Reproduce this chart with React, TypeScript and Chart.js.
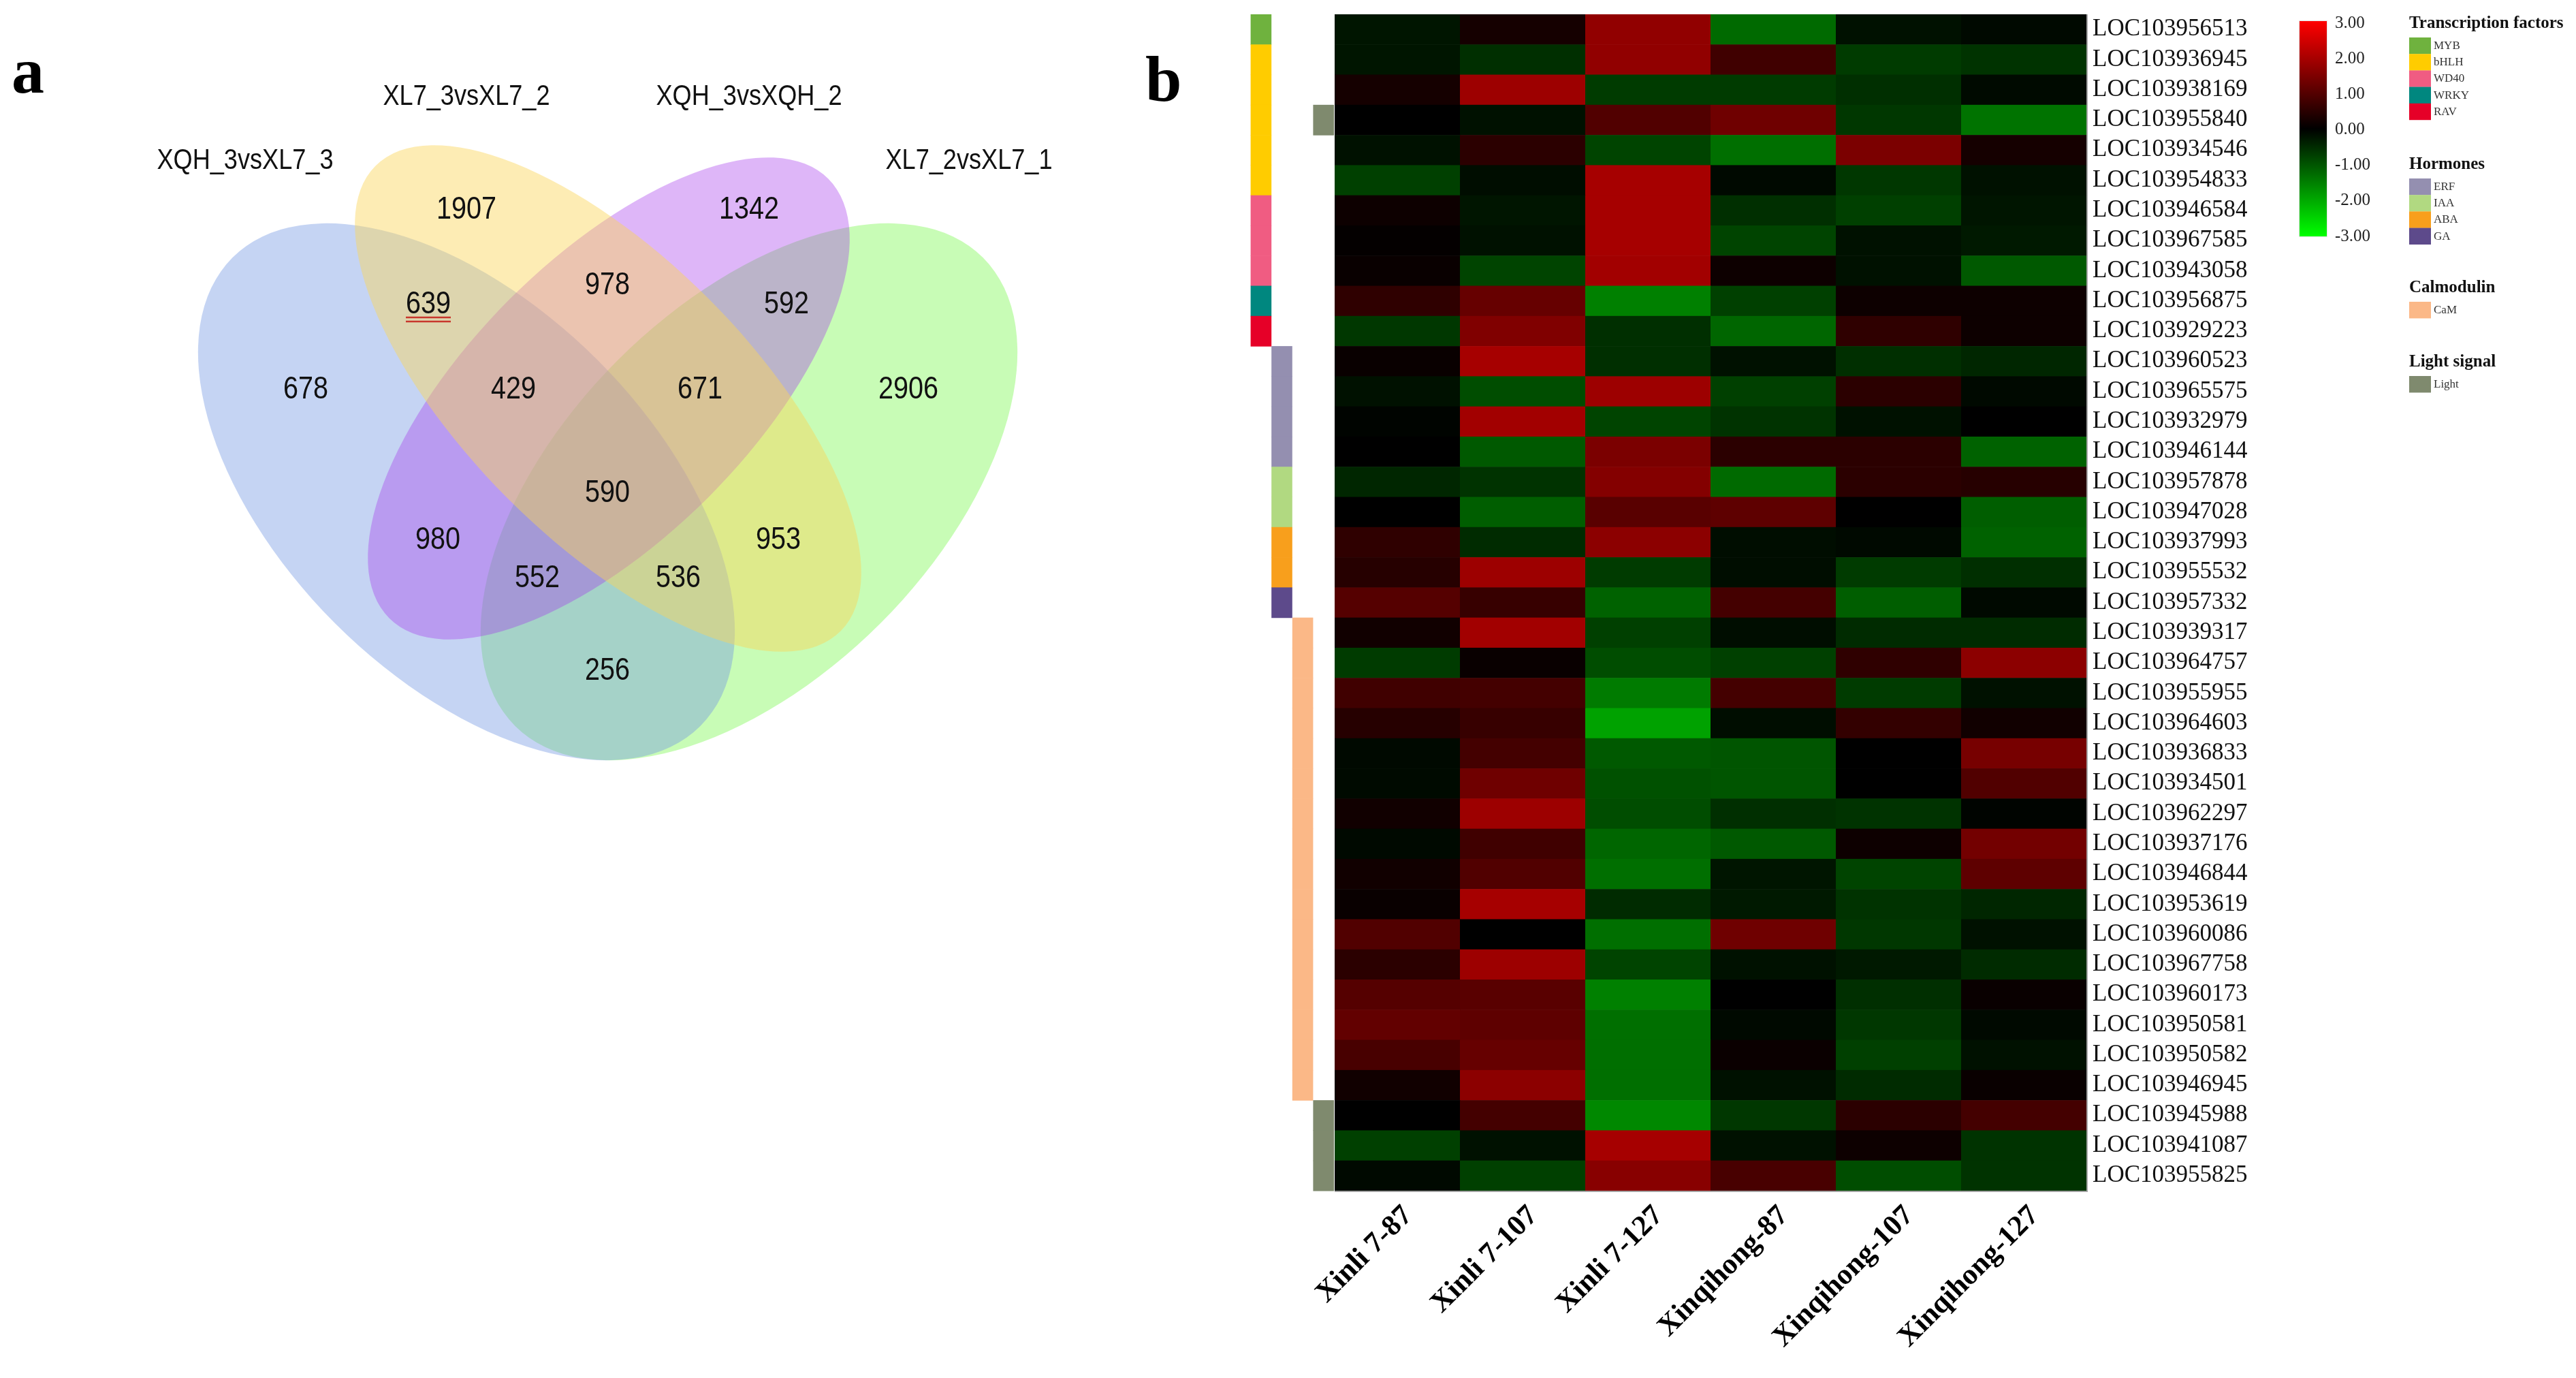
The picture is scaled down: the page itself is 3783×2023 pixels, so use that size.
import React, { useEffect, useRef } from 'react';
import { Chart, registerables } from 'chart.js';

Chart.register(...registerables);

// ================= Panel a : Venn data =================
const vennSetNames = ['XQH_3vsXL7_3', 'XL7_3vsXL7_2', 'XQH_3vsXQH_2', 'XL7_2vsXL7_1'];
const vennRegions = ['A', 'B', 'C', 'D', 'AB', 'BC', 'CD', 'ABC', 'BCD', 'ABCD', 'AC', 'BD', 'ACD', 'ABD', 'AD'];
const vennCounts = [678, 1907, 1342, 2906, 639, 978, 592, 429, 671, 590, 980, 953, 552, 536, 256];
const vennHighlighted = ['AB'];

// layout (unit space, 1 unit = 1000 px)
const vennRegionPos: [number, number][] = [
  [0.449, 0.572], [0.685, 0.308], [1.100, 0.308], [1.334, 0.572],
  [0.629, 0.447], [0.892, 0.419], [1.155, 0.447],
  [0.754, 0.572], [1.028, 0.572], [0.892, 0.724],
  [0.643, 0.793], [1.143, 0.793], [0.789, 0.849], [0.996, 0.849], [0.892, 0.985],
];
const vennSetLabelPos: [number, number][] = [[0.360, 0.236], [0.685, 0.142], [1.100, 0.142], [1.423, 0.236]];
// drawing order: D, A, C, B
const vennEllipses = [
  { set: 3, cx: 1.100, cy: 0.722, a: 0.486, b: 0.273, rot: -45, fill: 'rgba(118,247,73,0.40)' },
  { set: 0, cx: 0.685, cy: 0.722, a: 0.486, b: 0.273, rot: 45, fill: 'rgba(117,152,226,0.42)' },
  { set: 2, cx: 0.894, cy: 0.585, a: 0.456, b: 0.206, rot: -45, fill: 'rgba(164,53,236,0.36)' },
  { set: 1, cx: 0.893, cy: 0.585, a: 0.483, b: 0.208, rot: 45, fill: 'rgba(251,213,89,0.45)' },
];

// ================= Panel b : Heatmap data =================
const samples = ['Xinli 7-87', 'Xinli 7-107', 'Xinli 7-127', 'Xinqihong-87', 'Xinqihong-107', 'Xinqihong-127'];
const genes = [
  'LOC103956513', 'LOC103936945', 'LOC103938169', 'LOC103955840', 'LOC103934546', 'LOC103954833',
  'LOC103946584', 'LOC103967585', 'LOC103943058', 'LOC103956875', 'LOC103929223', 'LOC103960523',
  'LOC103965575', 'LOC103932979', 'LOC103946144', 'LOC103957878', 'LOC103947028', 'LOC103937993',
  'LOC103955532', 'LOC103957332', 'LOC103939317', 'LOC103964757', 'LOC103955955', 'LOC103964603',
  'LOC103936833', 'LOC103934501', 'LOC103962297', 'LOC103937176', 'LOC103946844', 'LOC103953619',
  'LOC103960086', 'LOC103967758', 'LOC103960173', 'LOC103950581', 'LOC103950582', 'LOC103946945',
  'LOC103945988', 'LOC103941087', 'LOC103955825',
];
const xinli7_87 = [-0.25, -0.25, 0.25, 0, -0.2, -0.75, 0.15, 0.05, 0.1, 0.55, -0.65, 0.1, -0.2, -0.05, 0, -0.45, 0, 0.55, 0.45, 1.0, 0.2, -0.7, 0.75, 0.45, -0.1, -0.12, 0.2, -0.1, 0.2, 0.1, 0.95, 0.5, 1.0, 1.15, 0.85, 0.2, 0, -0.75, -0.1];
const xinli7_107 = [0.25, -0.55, 1.85, -0.2, 0.5, -0.15, -0.25, -0.2, -0.8, 1.2, 1.5, 1.95, -0.9, 1.9, -1.05, -0.6, -1.1, -0.5, 1.85, 0.65, 1.9, 0.1, 0.8, 0.65, 0.8, 1.3, 1.85, 0.75, 0.95, 1.95, 0, 1.85, 1.05, 1.1, 1.2, 1.65, 0.8, -0.2, -0.75];
const xinli7_127 = [1.7, 1.7, -0.7, 0.95, -0.8, 1.95, 1.95, 1.95, 1.9, -1.5, -0.55, -0.55, 1.85, -0.8, 1.45, 1.55, 1.05, 1.65, -0.7, -1.15, -0.75, -0.9, -1.45, -1.9, -1.05, -0.95, -0.9, -1.2, -1.3, -0.5, -1.3, -0.8, -1.5, -1.3, -1.3, -1.3, -1.6, 1.95, 1.6];
const xinqihong_87 = [-1.25, 0.75, -0.7, 1.3, -1.3, -0.1, -0.55, -0.8, 0.15, -0.75, -1.2, -0.2, -0.75, -0.6, 0.5, -1.25, 1.1, -0.15, -0.15, 0.8, -0.15, -0.75, 0.8, -0.15, -1.0, -1.0, -0.55, -1.05, -0.25, -0.3, 1.3, -0.2, 0, -0.1, 0.12, -0.2, -0.65, -0.2, 0.85];
const xinqihong_107 = [-0.2, -0.7, -0.55, -0.65, 1.45, -0.65, -0.75, -0.2, -0.2, 0.15, 0.55, -0.55, 0.5, -0.2, 0.5, 0.5, 0, -0.1, -0.7, -1.1, -0.5, 0.55, -0.7, 0.6, 0, 0, -0.6, 0.15, -0.8, -0.6, -0.65, -0.3, -0.55, -0.65, -0.75, -0.5, 0.5, 0.15, -0.9];
const xinqihong_127 = [-0.1, -0.6, -0.12, -1.35, 0.25, -0.2, -0.25, -0.3, -1.05, 0.15, 0.15, -0.45, -0.1, 0, -1.15, 0.45, -1.1, -1.15, -0.55, -0.1, -0.5, 1.65, -0.2, 0.2, 1.4, 0.95, -0.05, 1.35, 1.1, -0.45, -0.2, -0.5, 0.1, -0.1, -0.2, 0.1, 0.8, -0.6, -0.6];
const sampleSeries = [xinli7_87, xinli7_107, xinli7_127, xinqihong_87, xinqihong_107, xinqihong_127];

const geneFamily = [
  'MYB', 'bHLH', 'bHLH', 'bHLH', 'bHLH', 'bHLH', 'WD40', 'WD40', 'WD40', 'WRKY', 'RAV',
  'ERF', 'ERF', 'ERF', 'ERF', 'IAA', 'IAA', 'ABA', 'ABA', 'GA',
  'CaM', 'CaM', 'CaM', 'CaM', 'CaM', 'CaM', 'CaM', 'CaM', 'CaM', 'CaM', 'CaM', 'CaM', 'CaM', 'CaM', 'CaM', 'CaM',
  'Light', 'Light', 'Light',
];
const extraLightGenes = ['LOC103955840'];

const legendTitles = ['Transcription factors', 'Hormones', 'Calmodulin', 'Light signal'];
const tfFamilies = ['MYB', 'bHLH', 'WD40', 'WRKY', 'RAV'];
const hormoneFamilies = ['ERF', 'IAA', 'ABA', 'GA'];
const calmodulinFamilies = ['CaM'];
const lightFamilies = ['Light'];
const legendGroups = [tfFamilies, hormoneFamilies, calmodulinFamilies, lightFamilies];
const colorTicks = [3, 2, 1, 0, -1, -2, -3];
const colorMin = -3;
const colorMax = 3;

// styles
const familyColors: Record<string, string> = {
  MYB: '#6fb23e', bHLH: '#ffcc00', WD40: '#f05c82', WRKY: '#00877f', RAV: '#e60028',
  ERF: '#948fb0', IAA: '#b1d981', ABA: '#f89f1c', GA: '#5d4a8b', CaM: '#fbb887', Light: '#7f8a6e',
};
const legendTitleY = [35, 242, 423, 532];

const SERIF = '"Liberation Serif", "Times New Roman", serif';
const SANS = '"Liberation Sans", Arial, sans-serif';
const NARROW_SCALE = 0.86;

function heatColor(v: number) {
  const t = Math.min(Math.abs(v) / colorMax, 1);
  const c = Math.round(255 * t);
  return v >= 0 ? `rgb(${c},0,0)` : `rgb(0,${c},0)`;
}

function narrowText(ctx: CanvasRenderingContext2D, txt: string, x: number, y: number) {
  ctx.save();
  ctx.translate(x, y);
  ctx.scale(NARROW_SCALE, 1);
  ctx.fillText(txt, 0, 0);
  ctx.restore();
}

// ================= Venn panel =================
function VennPanel() {
  const ref = useRef<HTMLCanvasElement>(null);
  useEffect(() => {
    const canvas = ref.current!;
    const vennPlugin = {
      id: 'vennDraw',
      beforeDatasetsDraw(chart: any) {
        const { ctx } = chart;
        const xs = chart.scales.x;
        const ys = chart.scales.y;
        const ux = xs.getPixelForValue(1) - xs.getPixelForValue(0);
        const uy = Math.abs(ys.getPixelForValue(1) - ys.getPixelForValue(0));
        ctx.save();
        vennEllipses.forEach((e) => {
          ctx.beginPath();
          ctx.ellipse(xs.getPixelForValue(e.cx), ys.getPixelForValue(e.cy), e.a * ux, e.b * uy, (e.rot * Math.PI) / 180, 0, Math.PI * 2);
          ctx.fillStyle = e.fill;
          ctx.fill();
        });
        ctx.restore();
      },
      afterDatasetsDraw(chart: any) {
        const { ctx } = chart;
        const xs = chart.scales.x;
        const ys = chart.scales.y;
        const meta = chart.getDatasetMeta(0);
        ctx.save();
        ctx.fillStyle = '#111';
        ctx.textAlign = 'center';
        ctx.textBaseline = 'middle';
        ctx.font = `46px ${SANS}`;
        meta.data.forEach((el: any, i: number) => {
          const txt = String(vennCounts[i]);
          ctx.fillStyle = '#111';
          narrowText(ctx, txt, el.x, el.y);
          if (vennHighlighted.includes(vennRegions[i])) {
            const w = ctx.measureText(txt).width * NARROW_SCALE;
            ctx.strokeStyle = '#c8372d';
            ctx.lineWidth = 2.5;
            [19, 25].forEach((dy) => {
              ctx.beginPath();
              ctx.moveTo(el.x - w / 2, el.y + dy);
              ctx.lineTo(el.x + w / 2, el.y + dy);
              ctx.stroke();
            });
          }
        });
        ctx.font = `42px ${SANS}`;
        ctx.fillStyle = '#111';
        vennSetNames.forEach((name, i) => {
          const [px, py] = vennSetLabelPos[i];
          narrowText(ctx, name, xs.getPixelForValue(px), ys.getPixelForValue(py));
        });
        ctx.textAlign = 'left';
        ctx.textBaseline = 'alphabetic';
        ctx.font = `bold 96px ${SERIF}`;
        ctx.fillStyle = '#000';
        ctx.fillText('a', 17, 136);
        ctx.restore();
      },
    };
    const chart = new Chart(canvas, {
      type: 'scatter',
      data: {
        datasets: [
          {
            data: vennRegionPos.map(([x, y]) => ({ x, y })),
            pointRadius: 0,
            pointHoverRadius: 0,
          },
        ],
      },
      options: {
        animation: false,
        responsive: false,
        events: [],
        layout: { padding: 0 },
        scales: {
          x: { type: 'linear', min: 0, max: 1.6, display: false },
          y: { type: 'linear', min: 0, max: 1.2, reverse: true, display: false },
        },
        plugins: { legend: { display: false }, tooltip: { enabled: false } },
      },
      plugins: [vennPlugin],
    } as any);
    return () => chart.destroy();
  }, []);
  return <canvas ref={ref} width={1600} height={1200} style={{ position: 'absolute', left: 0, top: 0 }} />;
}

// ================= Heatmap panel =================
function HeatmapPanel() {
  const ref = useRef<HTMLCanvasElement>(null);
  useEffect(() => {
    const canvas = ref.current!;
    const points: any[] = [];
    genes.forEach((g, i) => {
      samples.forEach((s, j) => {
        points.push({ x: s, y: g, v: sampleSeries[j][i] });
      });
    });
    const familyColumn: Record<string, number> = {};
    legendGroups.forEach((grp, gi) => grp.forEach((f) => (familyColumn[f] = gi)));

    const heatPlugin = {
      id: 'heatDraw',
      beforeDatasetsDraw(chart: any) {
        const { ctx, chartArea } = chart;
        const xs = chart.scales.x;
        const ys = chart.scales.y;
        const cw = Math.abs(xs.getPixelForValue(1) - xs.getPixelForValue(0));
        const ch = Math.abs(ys.getPixelForValue(1) - ys.getPixelForValue(0));
        const meta = chart.getDatasetMeta(0);
        const ds = chart.data.datasets[0].data;
        ctx.save();
        meta.data.forEach((el: any, k: number) => {
          ctx.fillStyle = heatColor(ds[k].v);
          ctx.fillRect(el.x - cw / 2, el.y - ch / 2, cw + 0.6, ch + 0.6);
        });
        // light border on bottom/right
        ctx.strokeStyle = 'rgba(160,160,160,0.9)';
        ctx.lineWidth = 2;
        ctx.beginPath();
        ctx.moveTo(chartArea.left, chartArea.bottom + 1);
        ctx.lineTo(chartArea.right + 1, chartArea.bottom + 1);
        ctx.lineTo(chartArea.right + 1, chartArea.top);
        ctx.stroke();

        // annotation bars
        const bw = 30.6;
        const drawBar = (row: number, fam: string) => {
          const col = familyColumn[fam];
          const py = ys.getPixelForValue(row);
          ctx.fillStyle = familyColors[fam];
          ctx.fillRect(chartArea.left - 1 - (4 - col) * bw, py - ch / 2, bw, ch + 0.6);
        };
        geneFamily.forEach((fam, i) => drawBar(i, fam));
        extraLightGenes.forEach((g) => drawBar(genes.indexOf(g), 'Light'));
        ctx.restore();
      },
      afterDraw(chart: any) {
        const { ctx, chartArea } = chart;
        ctx.save();
        // colour bar
        const cbX = chartArea.right + 313;
        const cbTop = 31;
        const cbBot = 347;
        const grad = ctx.createLinearGradient(0, cbTop, 0, cbBot);
        grad.addColorStop(0, heatColor(colorMax));
        grad.addColorStop(0.5, heatColor(0));
        grad.addColorStop(1, heatColor(colorMin));
        ctx.fillStyle = grad;
        ctx.fillRect(cbX, cbTop, 40, cbBot - cbTop);
        ctx.strokeStyle = '#e4e4e4';
        ctx.lineWidth = 1;
        ctx.strokeRect(cbX - 0.5, cbTop - 0.5, 41, cbBot - cbTop + 1);
        ctx.fillStyle = '#222';
        ctx.font = `25px ${SERIF}`;
        ctx.textAlign = 'left';
        ctx.textBaseline = 'middle';
        colorTicks.forEach((t) => {
          const y = cbTop + 3 + ((colorMax - t) / (colorMax - colorMin)) * (cbBot - cbTop - 3);
          ctx.fillText(t.toFixed(2), cbX + 52, y);
        });
        // categorical legend
        const lx = chartArea.right + 474;
        legendTitles.forEach((title, gi) => {
          const ty = legendTitleY[gi];
          ctx.font = `bold 25px ${SERIF}`;
          ctx.fillStyle = '#111';
          ctx.fillText(title, lx, ty);
          legendGroups[gi].forEach((fam, k) => {
            const iy = ty + 20 + k * 24.2;
            ctx.fillStyle = familyColors[fam];
            ctx.fillRect(lx, iy, 32, 24.4);
            ctx.fillStyle = '#333';
            ctx.font = `17px ${SERIF}`;
            ctx.fillText(fam, lx + 36, iy + 12.5);
          });
        });
        // panel letter
        ctx.font = `bold 96px ${SERIF}`;
        ctx.fillStyle = '#000';
        ctx.textBaseline = 'alphabetic';
        ctx.fillText('b', chartArea.left - 278, 148);
        ctx.restore();
      },
    };

    const chart = new Chart(canvas, {
      type: 'scatter',
      data: {
        datasets: [{ data: points, pointRadius: 0, pointHoverRadius: 0 }],
      },
      options: {
        animation: false,
        responsive: false,
        events: [],
        layout: { padding: { left: 360, top: 21, right: 399, bottom: 0 } },
        scales: {
          x: {
            type: 'category',
            labels: samples,
            offset: true,
            position: 'bottom',
            grid: { display: false, drawTicks: false },
            border: { display: false },
            ticks: {
              autoSkip: false,
              minRotation: 45,
              maxRotation: 45,
              padding: 12,
              labelOffset: 16,
              color: '#000',
              font: { family: SERIF, size: 43, weight: 'bold' },
            },
            afterFit: (s: any) => {
              s.height = 275;
              s.paddingLeft = 0;
              s.paddingRight = 0;
            },
          },
          y: {
            type: 'category',
            labels: genes,
            offset: true,
            position: 'right',
            grid: { display: false, drawTicks: false },
            border: { display: false },
            ticks: {
              autoSkip: false,
              padding: 9,
              color: '#111',
              font: { family: SERIF, size: 35 },
            },
            afterFit: (s: any) => {
              s.width = 320;
              s.paddingTop = 0;
              s.paddingBottom = 0;
            },
          },
        },
        plugins: { legend: { display: false }, tooltip: { enabled: false } },
      },
      plugins: [heatPlugin],
    } as any);
    return () => chart.destroy();
  }, []);
  return <canvas ref={ref} width={2183} height={2023} style={{ position: 'absolute', left: 1600, top: 0 }} />;
}

export default function App() {
  useEffect(() => {
    document.body.style.margin = '0';
    document.body.style.background = '#ffffff';
  }, []);
  return (
    <div style={{ position: 'relative', width: 3783, height: 2023, background: '#ffffff', overflow: 'hidden' }}>
      <VennPanel />
      <HeatmapPanel />
    </div>
  );
}
